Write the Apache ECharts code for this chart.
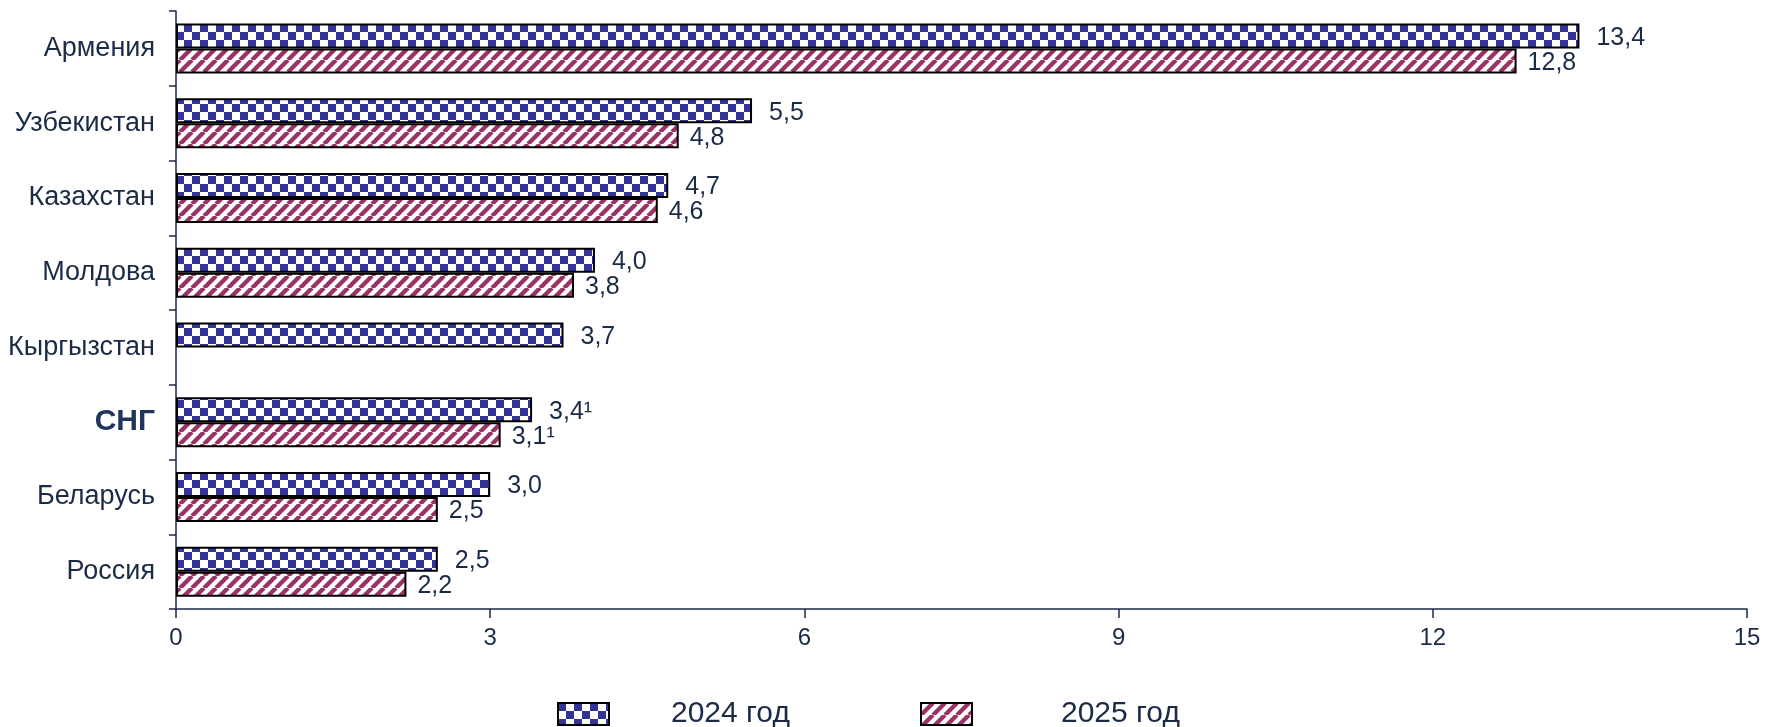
<!DOCTYPE html>
<html><head><meta charset="utf-8">
<script src="https://cdn.jsdelivr.net/npm/echarts@6/dist/echarts.min.js"></script>
<style>html,body{margin:0;padding:0;background:#fff}#c{width:1767px;height:727px}</style>
</head><body><div id="c"></div>
<script>
const categories = ['Армения','Узбекистан','Казахстан','Молдова','Кыргызстан','СНГ','Беларусь','Россия'];
const values2024 = [13.4, 5.5, 4.7, 4.0, 3.7, 3.4, 3.0, 2.5];
const values2025 = [12.8, 4.8, 4.6, 3.8, null, 3.1, 2.5, 2.2];
const footnoteCategory = 'СНГ';
const xTicks = [0, 3, 6, 9, 12, 15];

function checker(){
  const c = document.createElement('canvas'); c.width = 16; c.height = 16;
  const g = c.getContext('2d');
  g.fillStyle = '#fff'; g.fillRect(0,0,16,16);
  g.fillStyle = '#333399'; g.fillRect(0,0,8,8); g.fillRect(8,8,8,8);
  return c;
}
function stripes(){
  const s = 12;
  const c = document.createElement('canvas'); c.width = s; c.height = s;
  const g = c.getContext('2d');
  g.fillStyle = '#fff'; g.fillRect(0,0,s,s);
  g.strokeStyle = '#993366'; g.lineWidth = 4.4;
  for (const o of [-s, 0, s]) {
    g.beginPath(); g.moveTo(o, s); g.lineTo(o + s, 0); g.stroke();
  }
  return c;
}
const txt = '#1b2a45';
const ff = 'Liberation Sans, Arial';
function fmt(p){
  if (p.value == null) return '';
  let s = p.value.toFixed(1).replace('.', ',');
  if (p.name === footnoteCategory) s += '¹';
  return s;
}
const chart = echarts.init(document.getElementById('c'));
chart.setOption({
  animation: false,
  grid: {left: 176, right: 20, top: 11, bottom: 118},
  xAxis: {
    type: 'value', min: 0, max: 15, interval: 3,
    axisLine: {show: true, lineStyle: {color: txt, width: 1.5}},
    axisTick: {show: true, length: 9, lineStyle: {color: txt, width: 1.5}},
    splitLine: {show: false},
    axisLabel: {color: txt, fontSize: 24, fontFamily: ff, margin: 17,
      formatter: v => xTicks.includes(v) ? String(v) : ''}
  },
  yAxis: {
    type: 'category', data: categories, inverse: true,
    axisLine: {show: true, lineStyle: {color: txt, width: 1.5}},
    axisTick: {show: true, length: 7, lineStyle: {color: txt, width: 1.5}},
    axisLabel: {margin: 21, color: txt, fontSize: 27, fontFamily: ff,
      formatter: v => v === footnoteCategory ? '{b|' + v + '}' : v,
      rich: {b: {fontWeight: 'bold', fontSize: 30, color: '#1f3560', fontFamily: ff}}}
  },
  legend: [
    {left: 552, top: 694, itemWidth: 51, itemHeight: 22, icon: 'rect', data: ['2024 год'],
      textStyle: {color: txt, fontSize: 30, fontFamily: ff, padding: [0,0,0,57]}},
    {left: 915, top: 694, itemWidth: 51, itemHeight: 22, icon: 'rect', data: ['2025 год'],
      textStyle: {color: txt, fontSize: 30, fontFamily: ff, padding: [0,0,0,84]}}
  ],
  series: [
    {name: '2024 год', type: 'bar', data: values2024, barWidth: 25, barGap: '0%',
      itemStyle: {color: {image: checker(), repeat: 'repeat'}, borderColor: '#000', borderWidth: 2},
      label: {show: true, position: 'right', distance: 17, offset: [0, 2], color: txt, fontSize: 25,
        fontFamily: ff, formatter: fmt}},
    {name: '2025 год', type: 'bar', data: values2025, barWidth: 25,
      itemStyle: {color: {image: stripes(), repeat: 'repeat'}, borderColor: '#000', borderWidth: 2},
      label: {show: true, position: 'right', distance: 11, offset: [0, 2], color: txt, fontSize: 25,
        fontFamily: ff, formatter: fmt}}
  ]
});
</script></body></html>
